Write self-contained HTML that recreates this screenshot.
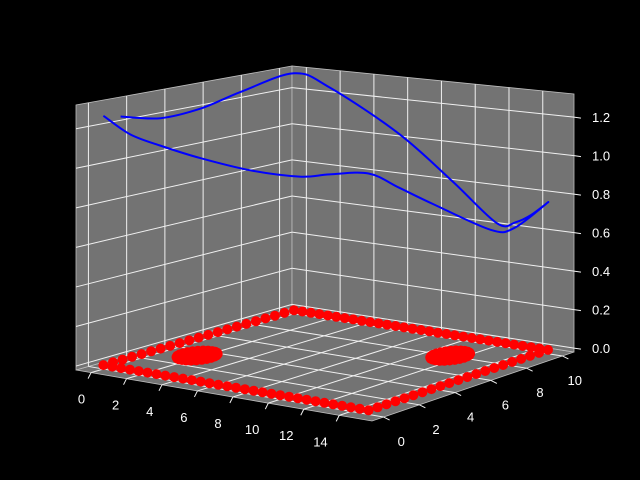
<!DOCTYPE html>
<html><head><meta charset="utf-8"><style>
html,body{margin:0;padding:0;background:#000;}
svg{display:block;}
text{font-family:"Liberation Sans","DejaVu Sans",sans-serif;font-size:13px;fill:#fff;}
</style></head><body>
<svg id="chart" width="640" height="480" viewBox="0 0 640 480"></svg>
<script>
// axis limits
const xlim = [-0.85, 15.85];
const ylim = [-0.65, 10.65];
const zlim = [-0.02, 1.32];
const xTicks = [0, 2, 4, 6, 8, 10, 12, 14];
const yTicks = [0, 2, 4, 6, 8, 10];
const zTicks = [0.0, 0.2, 0.4, 0.6, 0.8, 1.0, 1.2];
const zTickLabels = ["0.0", "0.2", "0.4", "0.6", "0.8", "1.0", "1.2"];
// blue curve
const curveX = [0, 0, 0, 0, 0, 2.1, 6.2, 9.4, 12.0, 13.1, 14.0, 15, 15, 15, 15, 15, 15, 12.8, 11.1, 8.3, 5.5, 3.2, 1.5, 0];
const curveY = [0.9, 3, 5.1, 7.2, 10, 10, 10, 10, 10, 10, 10, 10, 8.1, 6.8, 3.6, 1.7, 0, 0, 0, 0, 0, 0, 0, 0];
const curveZ = [1.243, 1.195, 1.205, 1.253, 1.30, 1.243, 1.033, 0.810, 0.621, 0.640, 0.688, 0.765, 0.680, 0.705, 0.910, 1.033, 1.138, 1.110, 1.081, 1.081, 1.110, 1.148, 1.186, 1.263];
// red scatter: rectangle perimeter + two clusters
const rectX0 = 0, rectX1 = 15, rectY0 = 0, rectY1 = 10, rectStep = 0.5;
const clusterCX = [2.2, 11.8];
const clusterCY = [2.9, 7.6];
const clusterR = [0.8, 0.8];

// projection: bilinear over floor corners + heights
const CL = [76, 370], CF = [372, 421], CR = [574, 352], CB = [292, 308];
const HL = 265, HF = 281, HR = 258, HB = 242;
function proj(x, y, z) {
  const u = (x - xlim[0]) / (xlim[1] - xlim[0]);
  const v = (y - ylim[0]) / (ylim[1] - ylim[0]);
  const w = (z - zlim[0]) / (zlim[1] - zlim[0]);
  const a = (1-u)*(1-v), b = u*(1-v), c = u*v, d = (1-u)*v;
  const px = CL[0]*a + CF[0]*b + CR[0]*c + CB[0]*d;
  const py = CL[1]*a + CF[1]*b + CR[1]*c + CB[1]*d;
  const h = HL*a + HF*b + HR*c + HB*d;
  return [px, py - w*h];
}
const NS = "http://www.w3.org/2000/svg";
const svg = document.getElementById('chart');
function mk(tag, attrs, parent) {
  const e = document.createElementNS(NS, tag);
  for (const k in attrs) e.setAttribute(k, attrs[k]);
  (parent || svg).appendChild(e);
  return e;
}
function pts(arr) { return arr.map(p => p[0].toFixed(1) + ',' + p[1].toFixed(1)).join(' '); }
const [x0, x1] = xlim, [y0, y1] = ylim, [z0, z1] = zlim;

// panes
const floor = mk('polygon', {points: pts([proj(x0,y0,z0), proj(x1,y0,z0), proj(x1,y1,z0), proj(x0,y1,z0)]), fill: '#737373', stroke: '#bdbdbd', 'stroke-width': 0.8});


const leftPane = mk('polygon', {points: pts([proj(x0,y0,z0), proj(x0,y1,z0), proj(x0,y1,z1), proj(x0,y0,z1)]), fill: '#737373', stroke: '#bdbdbd', 'stroke-width': 0.8});


const rightPane = mk('polygon', {points: pts([proj(x0,y1,z0), proj(x1,y1,z0), proj(x1,y1,z1), proj(x0,y1,z1)]), fill: '#737373', stroke: '#bdbdbd', 'stroke-width': 0.8});



const grid = mk('g', {stroke: '#f0f0f0', 'stroke-width': 1, fill: 'none'});


function line(a, b, parent, sw) {
  return mk('line', {x1: a[0], y1: a[1], x2: b[0], y2: b[1], 'stroke-width': sw || 1}, parent);
}
const labels = mk('g', {});


xTicks.forEach((t, i) => {
  line(proj(t,y0,z0), proj(t,y1,z0), grid);
  line(proj(t,y1,z0), proj(t,y1,z1), grid);
  const p = proj(t, y0, z0);
  line(p, [p[0]-3, p[1]+6], grid);
  const u = (t - x0) / (x1 - x0);
  const tx = mk('text', {x: p[0] - 9 - 11*u, y: p[1] + 31, 'text-anchor': 'middle'}, labels);
  tx.textContent = String(t);
  
  
});
yTicks.forEach((t, i) => {
  line(proj(x0,t,z0), proj(x1,t,z0), grid);
  line(proj(x0,t,z0), proj(x0,t,z1), grid);
  const p = proj(x1, t, z0);
  line(p, [p[0]+6, p[1]+3], grid);
  const v = (t - y0) / (y1 - y0);
  const tx = mk('text', {x: p[0] + 18 - 6*v, y: p[1] + 29, 'text-anchor': 'middle'}, labels);
  tx.textContent = String(t);
  
  
});
zTicks.forEach((t, i) => {
  line(proj(x0,y0,t), proj(x0,y1,t), grid);
  line(proj(x0,y1,t), proj(x1,y1,t), grid);
  const p = proj(x1, y1, t);
  line(p, [p[0]+7, p[1]+1], grid);
  const tx = mk('text', {x: p[0] + 18, y: p[1] + 5, 'text-anchor': 'start'}, labels);
  tx.textContent = zTickLabels[i];
  
  
});

// red scatter
const sc = mk('g', {fill: '#ff0000'});


const sx = [], sy = [];
for (let x = rectX0; x <= rectX1 + 1e-9; x += rectStep) { sx.push(x); sy.push(rectY0); sx.push(x); sy.push(rectY1); }
for (let y = rectY0 + rectStep; y < rectY1 - 1e-9; y += rectStep) { sx.push(rectX0); sy.push(y); sx.push(rectX1); sy.push(y); }
clusterCX.forEach((cx, k) => {
  [1, 0.66, 0.33].forEach(f => {
    for (let j = 0; j < 24; j++) {
      const a = j / 24 * Math.PI * 2;
      sx.push(cx + f*clusterR[k]*Math.cos(a)); sy.push(clusterCY[k] + f*clusterR[k]*Math.sin(a));
    }
  });
  sx.push(cx); sy.push(clusterCY[k]);
});
sx.forEach((x, i) => {
  const p = proj(x, sy[i], 0);
  const c = mk('circle', {cx: p[0].toFixed(1), cy: p[1].toFixed(1), r: 5}, sc);
  
  
});

// blue curve (Catmull-Rom smoothing through projected points)
const cpts = curveX.map((x, i) => proj(x, curveY[i], curveZ[i]));
let d = 'M' + cpts[0][0].toFixed(1) + ',' + cpts[0][1].toFixed(1);
for (let i = 0; i < cpts.length - 1; i++) {
  const p0 = cpts[Math.max(0, i-1)], p1 = cpts[i], p2 = cpts[i+1], p3 = cpts[Math.min(cpts.length-1, i+2)];
  const c1 = [p1[0] + (p2[0]-p0[0])/6, p1[1] + (p2[1]-p0[1])/6];
  const c2 = [p2[0] - (p3[0]-p1[0])/6, p2[1] - (p3[1]-p1[1])/6];
  d += ' C' + c1[0].toFixed(1) + ',' + c1[1].toFixed(1) + ' ' + c2[0].toFixed(1) + ',' + c2[1].toFixed(1) + ' ' + p2[0].toFixed(1) + ',' + p2[1].toFixed(1);
}
const curve = mk('path', {d: d, fill: 'none', stroke: '#0000ff', 'stroke-width': 2, 'stroke-linejoin': 'round'});


</script>
</body></html>
